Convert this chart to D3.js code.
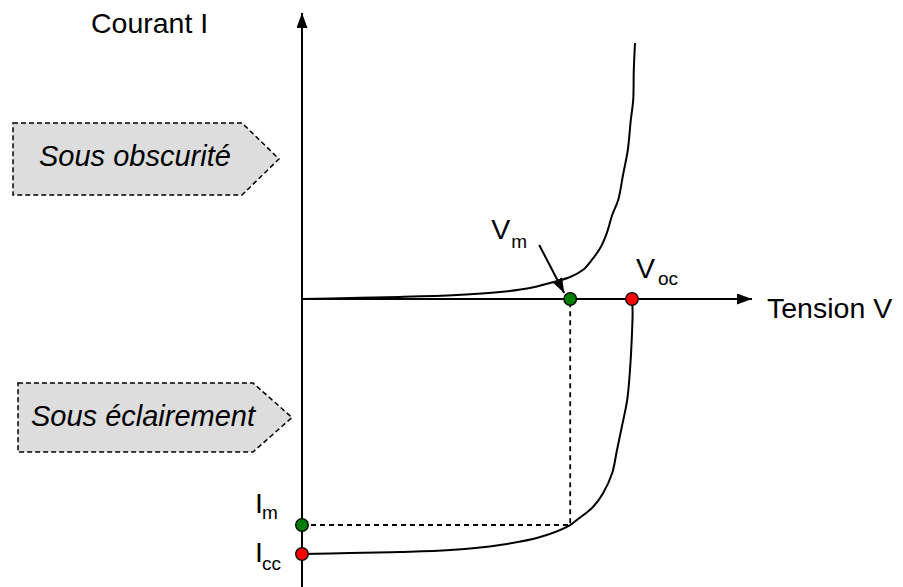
<!DOCTYPE html>
<html lang="fr">
<head>
<meta charset="UTF-8" />
<title>Caractéristique I(V) d'une cellule photovoltaïque</title>
<style>
  body { margin: 0; background: #fff; }
  svg text { font-family: "Liberation Sans", Arial, sans-serif; fill: #000; }
</style>
</head>
<body>
<script src="https://cdn.jsdelivr.net/npm/d3@7"></script>
<script>
// tension (V) et courant (mA)
var darkV = [0, 0.08, 0.163, 0.258, 0.33, 0.38, 0.413, 0.447, 0.468, 0.483, 0.497, 0.508, 0.517, 0.527, 0.535, 0.543, 0.548, 0.552, 0.553, 0.555];
var darkI = [0, 0.012, 0.024, 0.047, 0.082, 0.129, 0.188, 0.259, 0.341, 0.459, 0.6, 0.776, 0.988, 1.165, 1.459, 1.753, 2.106, 2.341, 2.694, 3.012];

var lightV = [0, 0.08, 0.163, 0.247, 0.33, 0.397, 0.447, 0.458, 0.485, 0.502, 0.517, 0.525, 0.533, 0.542, 0.547, 0.55, 0.551, 0.55];
var lightI = [-3.0, -2.988, -2.976, -2.953, -2.894, -2.8, -2.659, -2.6, -2.447, -2.282, -2.047, -1.776, -1.506, -1.188, -0.8, -0.4, -0.15, 0];

// points remarquables
var pointNames = ["Vm", "Voc", "Im", "Icc"];
var pointV = [0.447, 0.55, 0, 0];
var pointI = [0, 0, -2.659, -3.0];
var pointColor = ["#007f00", "#ff0000", "#007f00", "#ff0000"];

var width = 903, height = 587;

var x = d3.scaleLinear().domain([0, 0.75]).range([302, 752]);
var y = d3.scaleLinear().domain([-3.4, 3.4]).range([588, 10]);

var svg = d3.select("body").append("svg")
  .attr("width", width)
  .attr("height", height);

var defs = svg.append("defs");
defs.append("marker")
  .attr("id", "arrow")
  .attr("viewBox", "0 0 15 11")
  .attr("refX", 15).attr("refY", 5.5)
  .attr("markerWidth", 15).attr("markerHeight", 11)
  .attr("markerUnits", "userSpaceOnUse")
  .attr("orient", "auto")
  .append("path").attr("d", "M0,0 L15,5.5 L0,11 Z").attr("fill", "#000");

// encadrés "Sous obscurité" / "Sous éclairement"
function callout(x0, x1, tip, top, bottom, label, tx, ty) {
  var mid = (top + bottom) / 2;
  svg.append("path")
    .attr("d", "M" + x0 + "," + top + " L" + x1 + "," + top + " L" + tip + "," + mid +
      " L" + x1 + "," + bottom + " L" + x0 + "," + bottom + " Z")
    .attr("fill", "#dddddd")
    .attr("stroke", "#000")
    .attr("stroke-width", 1.5)
    .attr("stroke-dasharray", "5,3");
  svg.append("text")
    .attr("x", tx).attr("y", ty)
    .style("font-size", "29px")
    .style("font-style", "italic")
    .text(label);
}
callout(13, 242, 279, 123, 195, "Sous obscurité", 39, 166);
callout(18, 253, 292, 383, 452, "Sous éclairement", 31, 426);

// axes
svg.append("line")
  .attr("x1", x(0)).attr("x2", x(0))
  .attr("y1", y(-3.4)).attr("y2", y(3.365))
  .attr("stroke", "#000").attr("stroke-width", 2)
  .attr("marker-end", "url(#arrow)");
svg.append("line")
  .attr("x1", x(0)).attr("x2", x(0.75))
  .attr("y1", y(0)).attr("y2", y(0))
  .attr("stroke", "#000").attr("stroke-width", 2)
  .attr("marker-end", "url(#arrow)");

svg.append("text").attr("x", 91).attr("y", 33).style("font-size", "28.5px").text("Courant I");
svg.append("text").attr("x", x(0.75) + 15).attr("y", y(0) + 19).style("font-size", "28.5px").text("Tension V");

// courbes
var line = d3.line()
  .x(function(d) { return x(d[0]); })
  .y(function(d) { return y(d[1]); })
  .curve(d3.curveCatmullRom.alpha(0.5));

svg.append("path")
  .datum(d3.zip(darkV, darkI))
  .attr("d", line)
  .attr("fill", "none").attr("stroke", "#000").attr("stroke-width", 2);

svg.append("path")
  .datum(d3.zip(lightV, lightI))
  .attr("d", line)
  .attr("fill", "none").attr("stroke", "#000").attr("stroke-width", 2);

// point de puissance maximale (pointillés)
var vm = pointV[0], im = pointI[2];
svg.append("path")
  .attr("d", "M" + x(0) + "," + y(im) + " L" + x(vm) + "," + y(im) + " L" + x(vm) + "," + y(0))
  .attr("fill", "none").attr("stroke", "#000").attr("stroke-width", 1.8)
  .attr("stroke-dasharray", "5,4");

// flèche vers Vm
svg.append("line")
  .attr("x1", x(vm) - 31).attr("y1", y(0) - 54)
  .attr("x2", x(vm) - 6).attr("y2", y(0) - 6)
  .attr("stroke", "#000").attr("stroke-width", 2)
  .attr("marker-end", "url(#arrow)");

svg.selectAll("circle.pt")
  .data(pointNames)
  .enter().append("circle")
  .attr("class", "pt")
  .attr("cx", function(d, i) { return x(pointV[i]); })
  .attr("cy", function(d, i) { return y(pointI[i]); })
  .attr("r", 6.3)
  .attr("fill", function(d, i) { return pointColor[i]; })
  .attr("stroke", "#000").attr("stroke-width", 1.3);

// étiquettes avec indices
function sublabel(main, sub, mx, my, sx, sy) {
  svg.append("text").attr("x", mx).attr("y", my).style("font-size", "28.5px").text(main);
  svg.append("text").attr("x", sx).attr("y", sy).style("font-size", "19px").text(sub);
}
sublabel("V", "m", x(vm) - 79, y(0) - 60, x(vm) - 59, y(0) - 51);
sublabel("V", "oc", x(pointV[1]) + 4, y(0) - 21, x(pointV[1]) + 26, y(0) - 14);
sublabel("I", "m", 255, y(im) - 12, 262, y(im) - 6);
sublabel("I", "cc", 255, y(pointI[3]) + 8, 262, y(pointI[3]) + 16);
</script>
</body>
</html>
